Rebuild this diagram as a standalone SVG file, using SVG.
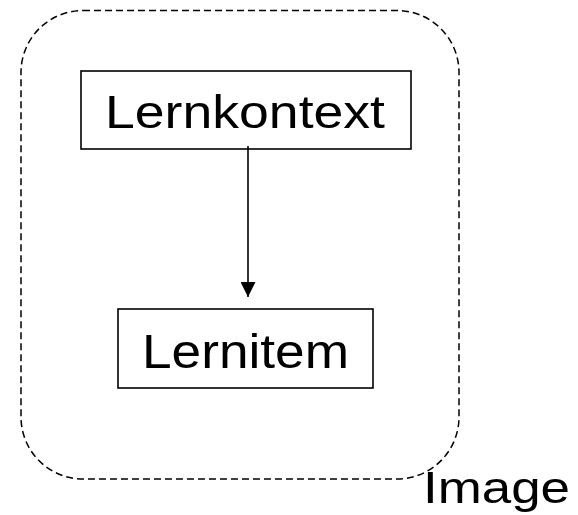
<svg xmlns="http://www.w3.org/2000/svg" width="578" height="515" viewBox="0 0 578 515">
  <style>
    .box { fill: #ffffff; stroke: #000000; stroke-width: 1.6; }
    .lbl { font-family: "Liberation Sans", Arial, sans-serif; fill: #000000; }
    .edge { stroke: #000000; stroke-width: 1.6; fill: none; }
  </style>
  <defs>
    <marker id="arrow" markerWidth="16" markerHeight="15" refX="15" refY="7.5" orient="auto" markerUnits="userSpaceOnUse">
      <path d="M0,0 L15,7.5 L0,15 Z" fill="#000000"/>
    </marker>
  </defs>
  <rect width="578" height="515" fill="#ffffff"/>
  <g id="image-frame">
    <rect x="21" y="10.5" width="438" height="468.5" rx="62" ry="62" fill="none" stroke="#000000" stroke-width="1.5" stroke-dasharray="7,4"/>
    <text class="lbl" x="423" y="503" font-size="44" textLength="147" lengthAdjust="spacingAndGlyphs">Image</text>
  </g>
  <g id="lernkontext">
    <rect class="box" x="81" y="71" width="330" height="78"/>
    <text class="lbl" x="105" y="128" font-size="47" textLength="280" lengthAdjust="spacingAndGlyphs">Lernkontext</text>
  </g>
  <g id="lernitem">
    <rect class="box" x="118" y="309" width="255" height="79"/>
    <text class="lbl" x="142" y="368" font-size="48" textLength="207" lengthAdjust="spacingAndGlyphs">Lernitem</text>
  </g>
  <g id="connectors">
    <line class="edge" x1="248" y1="146" x2="248" y2="297" marker-end="url(#arrow)"/>
  </g>
</svg>
